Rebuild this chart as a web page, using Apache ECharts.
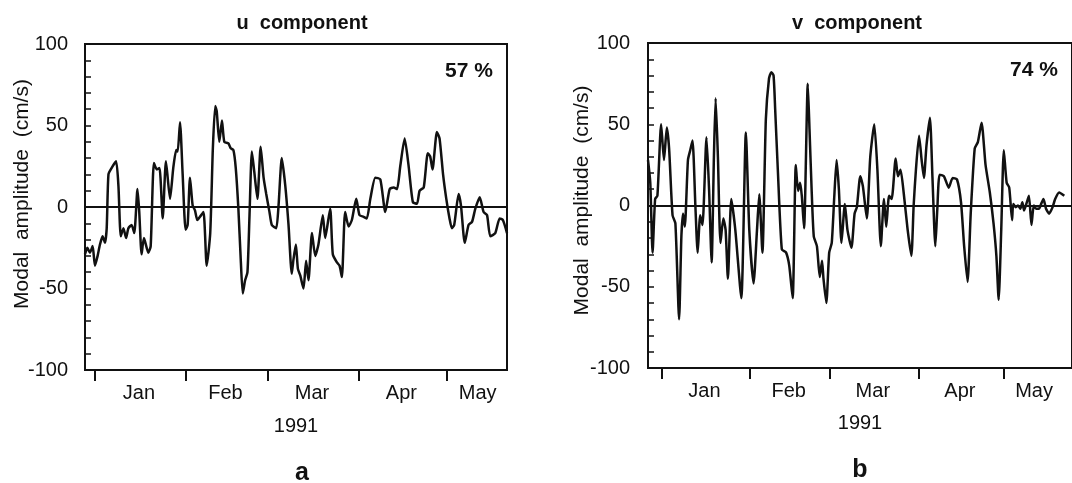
<!DOCTYPE html>
<html>
<head>
<meta charset="utf-8">
<script src="https://cdn.jsdelivr.net/npm/echarts@6/dist/echarts.min.js"></script>
<style>
  html, body { margin: 0; padding: 0; background: #fff; }
  #chart { width: 1072px; height: 483px; }
</style>
</head>
<body>
<div id="chart"></div>
<script>
// Month axis: tick marks at the first day of each month, names at mid-month
const monthNames = ['Jan', 'Feb', 'Mar', 'Apr', 'May'];
const monthStartDays = [0, 31, 59, 90, 120];
const monthLabelDays = [15, 44.5, 74, 104.5, 130.5];

// u component, day of 1991 (0 = 1 Jan) and modal amplitude in cm/s
const uDays = [-3.4, -2.6, -1.7, -0.8, 0, 0.9, 1.7, 2.6, 3.4, 4.0,
  4.6, 5.7, 7.2, 8.0, 8.8, 9.7, 10.6, 11.4, 12.5, 13.4,
  14.5, 15.1, 15.9, 16.7, 18.2, 19.0, 20.1, 21.1, 22.0, 23.1,
  24.2, 25.6, 26.7, 27.7, 28.2, 29.0, 29.9, 30.9, 31.6, 32.4,
  33.3, 34.1, 34.9, 35.8, 37.0, 38.1, 39.3, 40.2, 41.0, 41.5,
  42.4, 43.3, 44.1, 45.5, 46.3, 47.2, 48.0, 48.9, 49.7, 50.4,
  51.2, 52.0, 52.7, 53.5, 54.3, 55.4, 56.5, 57.5, 58.4, 59.5,
  60.3, 61.8, 62.6, 63.7, 64.9, 66.0, 67.1, 67.7, 68.5, 69.2,
  70.0, 71.1, 72.0, 72.8, 74.0, 75.1, 76.2, 77.7, 78.5, 80.2,
  81.1, 82.5, 83.4, 84.2, 85.3, 86.5, 87.6, 89.1, 90.2, 91.6,
  92.7, 93.9, 95.6, 97.3, 99.0, 100.5, 101.8, 103.0, 104.1, 105.6,
  106.9, 108.4, 109.8, 110.7, 112.1, 113.5, 114.3, 115.1, 116.6, 117.5,
  118.7, 119.8, 120.9, 121.7, 122.5, 124.0, 124.8, 126.1, 127.4, 128.6,
  129.7, 131.2, 132.5, 133.7, 134.8, 136.5, 138.0, 139.1, 140.5];
const uValues = [-29, -25, -28, -24, -36, -30, -23, -18, -22, -13,
  20, 24, 28, 13, -18, -13, -19, -13, -11, -16,
  11, -3, -29, -19, -28, -24, 27, 23, 24, -7,
  28, 5, 24, 35, 34, 52, 20, -14, -11, 18,
  1, -2, -8, -6, -3, -36, -16, 36, 62, 59,
  40, 53, 40, 39, 36, 35, 24, -1, -32, -53,
  -45, -40, -5, 34, 22, 5, 37, 18, 8, -3,
  -11, -13, 1, 30, 13, -11, -41, -32, -23, -38,
  -42, -50, -33, -45, -16, -30, -23, -5, -19, -1,
  -29, -34, -36, -43, -3, -12, -8, 5, -5, -6,
  -7, 5, 18, 17, -3, 11, 12, 11, 25, 42,
  26, 3, 2, 10, 12, 33, 31, 23, 46, 42,
  20, 5, -7, -13, -11, 8, 1, -22, -11, -9,
  -1, 6, -3, -5, -18, -16, -7, -8, -16];

// v component
const vDays = [-4.8, -4.0, -3.2, -2.3, -1.5, -0.2, 0.8, 1.8, 2.6, 3.8,
  4.8, 6.1, 6.9, 7.5, 8.1, 9.2, 10.0, 10.8, 11.8, 12.6,
  13.5, 14.3, 15.7, 16.6, 17.5, 18.3, 18.9, 19.7, 20.6, 21.6,
  22.4, 23.2, 24.4, 25.8, 27.9, 29.5, 30.7, 32.2, 33.4, 34.2,
  35.3, 36.5, 37.6, 38.4, 39.2, 39.8, 40.7, 42.1, 43.6, 44.7,
  45.9, 47.0, 47.8, 48.5, 49.1, 49.9, 51.2, 51.8, 52.5, 53.3,
  54.4, 55.4, 56.2, 56.7, 57.7, 58.7, 59.6, 60.5, 61.3, 62.1,
  63.0, 64.2, 65.1, 66.5, 67.6, 68.4, 69.6, 70.5, 71.9, 73.1,
  74.5, 75.6, 76.8, 77.9, 78.7, 79.7, 80.6, 82.0, 82.8, 83.7,
  84.8, 86.2, 87.5, 88.3, 89.1, 90.2, 91.1, 91.9, 92.8, 94.0,
  94.9, 95.9, 96.6, 97.4, 98.9, 100.6, 102.0, 103.5, 104.9, 106.0,
  107.2, 108.3, 109.7, 110.8, 112.1, 113.5, 115.0, 116.3, 117.3, 118.1,
  119.0, 119.9, 120.9, 121.8, 122.8, 123.2, 124.1, 124.9, 125.7, 126.4,
  127.0, 127.8, 128.7, 129.6, 130.4, 131.2, 132.2, 133.0, 133.8, 134.7,
  135.8, 137.0, 137.9, 139.3, 141.1];
const vValues = [28, 14, -29, 4, 6, 50, 28, 48, 35, -6,
  -11, -70, -19, -5, -13, 28, 34, 40, 0, -29,
  -6, -12, 42, 10, -35, 30, 66, 30, -23, -8,
  -15, -45, 4, -15, -57, 45, -15, -48, -15, 7,
  -29, 53, 78, 82, 80, 58, 22, -27, -29, -37,
  -57, 25, 9, 14, 6, -14, 75, 47, 12, -19,
  -25, -44, -34, -45, -60, -29, -23, 6, 28, 10,
  -23, 1, -15, -26, -5, -1, 18, 12, -8, 30,
  50, 22, -25, 4, -13, 6, 4, 29, 18, 22,
  8, -15, -31, 0, 22, 43, 28, 17, 37, 54,
  17, -25, -2, 19, 18, 11, 17, 16, 2, -25,
  -47, -5, 35, 39, 51, 25, 8, -11, -31, -58,
  -15, 34, 14, 11, -9, 1, -1, 0, -2, 2,
  -3, 1, 6, -12, 0, -2, -2, 1, 4, -2,
  -5, -1, 4, 8, 6];

const FONT = '"Liberation Sans", Arial, sans-serif';
const INK = '#111';

function pairs(xs, ys) { return xs.map((x, i) => [x, ys[i]]); }

function monthName(v) {
  const i = monthLabelDays.findIndex(d => Math.abs(d - v) < 1e-6);
  return i >= 0 ? monthNames[i] : '';
}

function xAxisFor(gridIndex, min, max, nameGap) {
  return {
    type: 'value', gridIndex, min, max,
    axisLine: { show: false, onZero: false },
    splitLine: { show: false },
    axisTick: { show: true, inside: false, length: 11, customValues: monthStartDays,
      lineStyle: { color: INK, width: 2 } },
    axisLabel: { customValues: monthLabelDays, formatter: monthName,
      color: INK, fontSize: 20, fontFamily: FONT, margin: 13 },
    name: '1991', nameLocation: 'middle', nameGap, nameMoveOverlap: false,
    nameTextStyle: { color: INK, fontSize: 20, fontFamily: FONT }
  };
}

function yAxisFor(gridIndex, nameGap, labelMargin, lift) {
  return {
    type: 'value', gridIndex, min: -100, max: 100, interval: 50,
    axisLine: { show: false, onZero: false },
    splitLine: { show: false },
    axisTick: { show: true, inside: true, length: 6, lineStyle: { color: INK, width: 1.5 } },
    minorTick: { show: true, splitNumber: 5, length: 6, lineStyle: { color: INK, width: 1.5 } },
    axisLabel: { color: INK, fontSize: 20, fontFamily: FONT, margin: labelMargin },
    name: 'Modal  amplitude  (cm/s)', nameLocation: 'middle', nameGap, nameRotate: 90,
    nameMoveOverlap: false,
    nameTextStyle: { color: INK, fontSize: 21, fontFamily: FONT, padding: [0, 0, 0, lift] }
  };
}

function seriesFor(index, data) {
  return {
    type: 'line', xAxisIndex: index, yAxisIndex: index,
    data, showSymbol: false, smooth: 0.2, clip: true,
    lineStyle: { color: INK, width: 2.5 },
    markLine: {
      silent: true, symbol: 'none', label: { show: false },
      lineStyle: { color: INK, width: 2, type: 'solid' },
      data: [{ yAxis: 0 }]
    }
  };
}

function text(x, y, str, size, bold) {
  return {
    type: 'text', x, y,
    style: { text: str, fill: INK, font: (bold ? 'bold ' : '') + size + 'px ' + FONT,
      textAlign: 'center', textVerticalAlign: 'middle' }
  };
}

const chart = echarts.init(document.getElementById('chart'), null, { renderer: 'canvas' });
chart.setOption({
  backgroundColor: '#fff',
  animation: false,
  grid: [
    { left: 85, top: 44, width: 422, height: 326, show: true,
      borderColor: INK, borderWidth: 2, backgroundColor: 'transparent' },
    { left: 648, top: 43, width: 432, height: 325, show: true,
      borderColor: INK, borderWidth: 2, backgroundColor: 'transparent' }
  ],
  xAxis: [xAxisFor(0, -3.4, 140.5, 46), xAxisFor(1, -4.8, 143.8, 45)],
  yAxis: [yAxisFor(0, 52, 17, 26), yAxisFor(1, 55, 18, 10)],
  series: [seriesFor(0, pairs(uDays, uValues)), seriesFor(1, pairs(vDays, vValues))],
  graphic: [
    text(302, 23, 'u  component', 20, true),
    text(857, 23, 'v  component', 20, true),
    text(469, 71, '57 %', 21, true),
    text(1034, 70, '74 %', 21, true),
    text(302, 473, 'a', 25, true),
    text(860, 470, 'b', 25, true)
  ]
});
</script>
</body>
</html>
